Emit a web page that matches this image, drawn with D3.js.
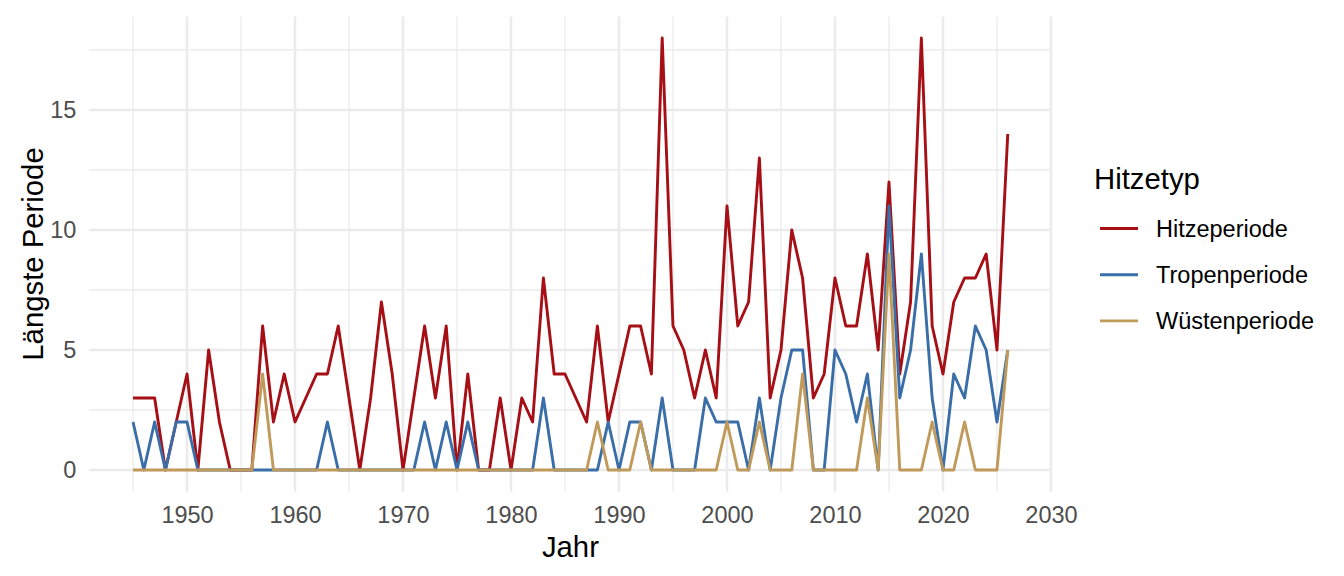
<!DOCTYPE html>
<html>
<head>
<meta charset="utf-8">
<script src="https://cdn.jsdelivr.net/npm/d3@7"></script>
<style>
  body { margin: 0; background: #fff; }
  svg text { font-family: "Liberation Sans", Arial, Helvetica, sans-serif; }
</style>
</head>
<body>
<div id="chart-area"></div>
<script>
var years = d3.range(1945, 2027);

var hitze = [3, 3, 3, 0, 2, 4, 0, 5, 2, 0, 0, 0, 6, 2, 4, 2, 3, 4, 4, 6,
    3, 0, 3, 7, 4, 0, 3, 6, 3, 6, 0, 4, 0, 0, 3, 0, 3, 2, 8, 4,
    4, 3, 2, 6, 2, 4, 6, 6, 4, 18, 6, 5, 3, 5, 3, 11, 6, 7, 13, 3,
    5, 10, 8, 3, 4, 8, 6, 6, 9, 5, 12, 4, 7, 18, 6, 4, 7, 8, 8, 9,
    5, 14];
var tropen = [2, 0, 2, 0, 2, 2, 0, 0, 0, 0, 0, 0, 0, 0, 0, 0, 0, 0, 2, 0,
    0, 0, 0, 0, 0, 0, 0, 2, 0, 2, 0, 2, 0, 0, 0, 0, 0, 0, 3, 0,
    0, 0, 0, 0, 2, 0, 2, 2, 0, 3, 0, 0, 0, 3, 2, 2, 2, 0, 3, 0,
    3, 5, 5, 0, 0, 5, 4, 2, 4, 0, 11, 3, 5, 9, 3, 0, 4, 3, 6, 5,
    2, 5];
var wueste = [0, 0, 0, 0, 0, 0, 0, 0, 0, 0, 0, 0, 4, 0, 0, 0, 0, 0, 0, 0,
    0, 0, 0, 0, 0, 0, 0, 0, 0, 0, 0, 0, 0, 0, 0, 0, 0, 0, 0, 0,
    0, 0, 0, 2, 0, 0, 0, 2, 0, 0, 0, 0, 0, 0, 0, 2, 0, 0, 2, 0,
    0, 0, 4, 0, 0, 0, 0, 0, 3, 0, 9, 0, 0, 0, 2, 0, 0, 2, 0, 0,
    0, 5];

var seriesNames = ["Hitzeperiode", "Tropenperiode", "Wüstenperiode"];
var seriesColors = ["#A50F15", "#3A6EA8", "#C09A5B"];
var xTicks = [1950, 1960, 1970, 1980, 1990, 2000, 2010, 2020, 2030];
var yTicks = [0, 5, 10, 15];

var svg = d3.select("#chart-area").append("svg")
    .attr("width", 1344)
    .attr("height", 576);

var panel = { left: 89.3, right: 1051.5, top: 16.4, bottom: 491.6 };

// ggplot style 5% padding on x, 0.9 on y
var xSpan = (2026 - 1945) * 0.05;
var x = d3.scaleLinear()
    .domain([1945 - xSpan, 2026 + xSpan])
    .range([panel.left, panel.right]);

var y = d3.scaleLinear()
    .domain([-0.9, 18.9])
    .range([panel.bottom, panel.top]);

var grid = svg.append("g").attr("class", "grid");

var xMinor = d3.range(1945, 2030, 10);
var yMinor = [2.5, 7.5, 12.5, 17.5];

grid.selectAll(".x-minor").data(xMinor).enter().append("line")
    .attr("x1", d => x(d)).attr("x2", d => x(d))
    .attr("y1", panel.top).attr("y2", panel.bottom)
    .attr("stroke", "#EBEBEB").attr("stroke-width", 1.3);

grid.selectAll(".y-minor").data(yMinor).enter().append("line")
    .attr("x1", panel.left).attr("x2", panel.right)
    .attr("y1", d => y(d)).attr("y2", d => y(d))
    .attr("stroke", "#EBEBEB").attr("stroke-width", 1.3);

grid.selectAll(".x-major").data(xTicks).enter().append("line")
    .attr("x1", d => x(d)).attr("x2", d => x(d))
    .attr("y1", panel.top).attr("y2", panel.bottom)
    .attr("stroke", "#EBEBEB").attr("stroke-width", 2.6);

grid.selectAll(".y-major").data(yTicks).enter().append("line")
    .attr("x1", panel.left).attr("x2", panel.right)
    .attr("y1", d => y(d)).attr("y2", d => y(d))
    .attr("stroke", "#EBEBEB").attr("stroke-width", 2.6);

// axes without domain line or ticks, like theme_minimal
var xAxisGroup = svg.append("g")
    .attr("transform", `translate(0, ${panel.bottom})`)
    .call(d3.axisBottom(x).tickValues(xTicks).tickFormat(d3.format("d")).tickSize(0).tickPadding(15));

var yAxisGroup = svg.append("g")
    .attr("transform", `translate(${panel.left}, 0)`)
    .call(d3.axisLeft(y).tickValues(yTicks).tickSize(0).tickPadding(13));

svg.selectAll(".domain").remove();
svg.selectAll(".tick text")
    .attr("fill", "#4D4D4D")
    .style("font-size", "23.5px");

svg.append("text")
    .attr("x", (panel.left + panel.right) / 2)
    .attr("y", 557)
    .attr("text-anchor", "middle")
    .style("font-size", "29.3px")
    .text("Jahr");

svg.append("text")
    .attr("transform", `translate(43, ${(panel.top + panel.bottom) / 2}) rotate(-90)`)
    .attr("text-anchor", "middle")
    .style("font-size", "29.3px")
    .text("Längste Periode");

var series = [hitze, tropen, wueste];

var line = d3.line()
    .x((d, i) => x(years[i]))
    .y(d => y(d));

svg.append("g").selectAll("path")
    .data(series)
    .enter().append("path")
    .attr("d", d => line(d))
    .attr("fill", "none")
    .attr("stroke", (d, i) => seriesColors[i])
    .attr("stroke-width", 2.9)
    .attr("stroke-linejoin", "round");

// legend
var legend = svg.append("g");

legend.append("text")
    .attr("x", 1094)
    .attr("y", 189)
    .style("font-size", "29.3px")
    .text("Hitzetyp");

var items = legend.selectAll(".item")
    .data(seriesNames)
    .enter().append("g")
    .attr("transform", (d, i) => `translate(0, ${228.5 + i * 46.2})`);

items.append("line")
    .attr("x1", 1100).attr("x2", 1138)
    .attr("stroke", (d, i) => seriesColors[i])
    .attr("stroke-width", 2.9);

items.append("text")
    .attr("x", 1156)
    .attr("y", 8.4)
    .style("font-size", "23.5px")
    .text(d => d);
</script>
</body>
</html>
